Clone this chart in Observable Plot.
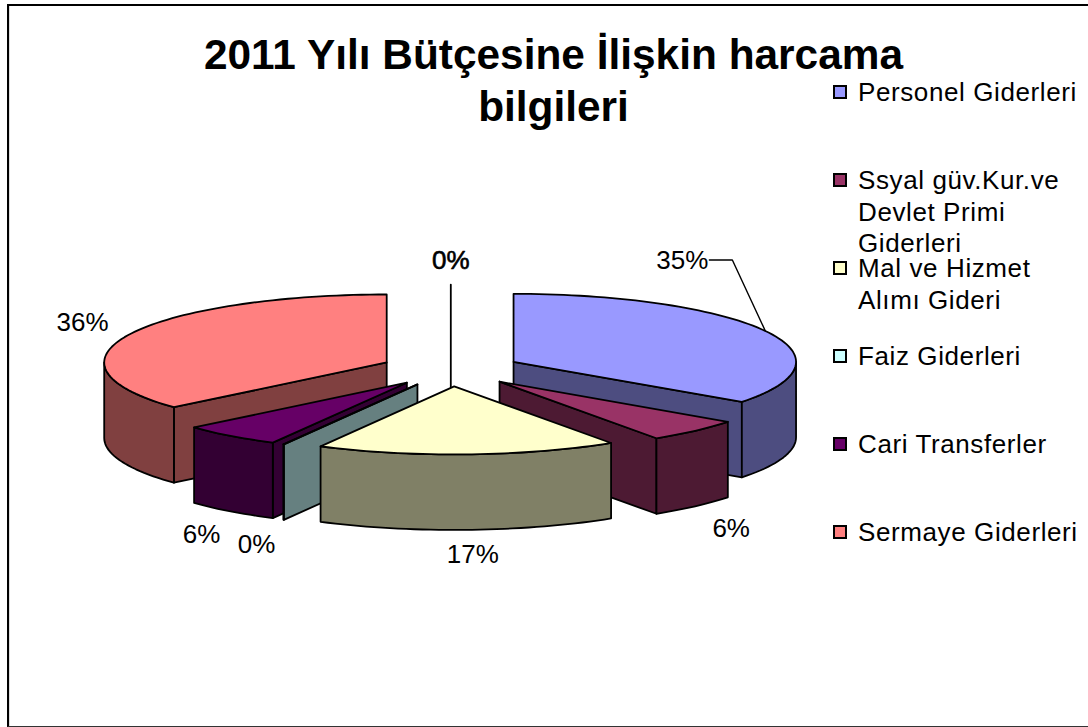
<!DOCTYPE html>
<html lang="tr">
<head>
<meta charset="utf-8">
<script src="https://cdn.jsdelivr.net/npm/d3@7"></script>
<script src="https://cdn.jsdelivr.net/npm/@observablehq/plot@0.6"></script>
<style>
html,body{margin:0;padding:0;background:#fff;overflow:hidden}
#wrap{position:relative;width:1088px;height:727px;overflow:hidden;font-family:"Liberation Sans",Arial,sans-serif;color:#000}
#wrap svg{position:absolute;left:0;top:0;background:transparent}
#frame{position:absolute;left:7px;top:4px;width:1100px;height:719.5px;box-sizing:content-box;border-left:2.5px solid #000;border-top:2.5px solid #000;border-bottom:1px solid #333;box-shadow:inset 1px 0 0 #ddd;pointer-events:none}
.tl{position:absolute;left:553.5px;transform:translateX(-50%);font-weight:bold;font-size:42.4px;line-height:44px;white-space:pre}
.sw{position:absolute;left:833px;width:10px;height:10px;border:2px solid #000}
.lg{position:absolute;left:858px;font-size:26px;line-height:31.5px;letter-spacing:.6px;white-space:pre}
</style>
</head>
<body>
<div id="wrap"></div>
<script>
const titleLines = ["2011 Yılı Bütçesine İlişkin harcama", "bilgileri"];
const names = ["Personel Giderleri", "Ssyal güv.Kur.ve\nDevlet Primi\nGiderleri", "Mal ve Hizmet\nAlımı Gideri", "Faiz Giderleri", "Cari Transferler", "Sermaye Giderleri", ""];
const values = [35.0, 5.6, 17.2, 0.03, 5.7, 36.4, 0];
const topColors = ["#9999FF", "#993366", "#FFFFCC", "#CCFFFF", "#660066", "#FF8080", "#FFFFFF"];
const sideColors = ["#4D4D80", "#4D1A33", "#808066", "#668080", "#330033", "#804040", "#808080"];

// Layout of the 3D pie
const W = 1088, H = 727;
const cx = 450.3, cy = 369, rx = 282.5, ry = 68, depth = 75.5, explode = 70.4;
const paintOrder = [6, 5, 0, 1, 4, 3, 2];
const labelNudge = [[-83, -70], [36, 98], [5, 100], [-27, 100], [-29, 99], [-47, -12], [0, -24]];
const legendTop = 85, legendStep = 88, titleTop = 33, titleStep = 52;

const arcs = d3.pie().sort(null).value(d => d)(values);
const slices = arcs.map((a, i) => {
  const mid = (a.startAngle + a.endAngle) / 2;
  const ax = cx + explode * Math.sin(mid);
  const ay = cy - explode * (ry / rx) * Math.cos(mid);
  return {i, a0: a.startAngle, a1: a.endAngle, mid, ax, ay,
    rim: t => [ax + rx * Math.sin(t), ay - ry * Math.cos(t)]};
});

let faces = [];
function addFace(pts, fill) {
  const id = faces.length ? faces[faces.length - 1].id + 1 : 0;
  const closed = [...pts, pts[0]];
  closed.forEach(p => faces.push({id, x: p[0], y: p[1], fill}));
}
function arcPoints(s, t0, t1) {
  const n = Math.max(1, Math.ceil(Math.abs(t1 - t0) / 0.03));
  return d3.range(n + 1).map(k => s.rim(t0 + (t1 - t0) * k / n));
}
for (const idx of paintOrder) {
  const s = slices[idx], side = sideColors[idx], top = topColors[idx];
  const apex = [s.ax, s.ay];
  const down = p => [p[0], p[1] + depth];
  const flat = s.a1 - s.a0 < 1e-9;
  if (flat) {
    addFace([apex, s.rim(s.a0), down(s.rim(s.a0)), down(apex)], side);
    continue;
  }
  // cut walls that face the viewer
  if (Math.sin(s.a0) < -1e-6) {
    const r = s.rim(s.a0);
    addFace([apex, r, down(r), down(apex)], side);
  }
  if (Math.sin(s.a1) > 1e-6) {
    const r = s.rim(s.a1);
    addFace([apex, r, down(r), down(apex)], side);
  }
  // outer wall: the part of the rim on the near half of the ellipse
  const t0 = Math.max(s.a0, Math.PI / 2), t1 = Math.min(s.a1, 3 * Math.PI / 2);
  if (t1 > t0) {
    const edge = arcPoints(s, t0, t1);
    addFace([...edge, ...edge.slice().reverse().map(down)], side);
  }
  // top face
  addFace([apex, ...arcPoints(s, s.a0, s.a1)], top);
}

const labels = slices.map((s, i) => {
  const p = s.rim(s.mid);
  return {i, x: p[0] + labelNudge[i][0], y: p[1] + labelNudge[i][1], text: d3.format(".0f")(values[i]) + "%"};
});

// leader of the first label
const p0 = slices[0].rim(slices[0].mid);
const leader = [p0, [p0[0] - 33, p0[1] - 71], [p0[0] - 56, p0[1] - 71]].map(([x, y]) => ({x, y}));

const chart = Plot.plot({
  width: W, height: H, margin: 0,
  style: {background: "transparent"},
  x: {domain: [0, W], range: [0, W], axis: null},
  y: {domain: [0, H], range: [0, H], axis: null},
  color: {type: "identity"},
  marks: [
    Plot.line(faces, {x: "x", y: "y", z: "id", fill: "fill", stroke: "#000", strokeWidth: 1.8, curve: "linear", strokeLinejoin: "round"}),
    Plot.line(leader, {x: "x", y: "y", stroke: "#000", strokeWidth: 1.4}),
    Plot.text(labels, {x: "x", y: "y", text: "text", fontSize: 26, fontFamily: "Liberation Sans, Arial, sans-serif", fill: "#000", stroke: "#000", strokeWidth: d => d.i === 6 ? 0.6 : 0})
  ]
});
const wrap = document.getElementById("wrap");
wrap.appendChild(chart);

const frame = document.createElement("div"); frame.id = "frame"; wrap.appendChild(frame);
titleLines.forEach((line, i) => {
  const t = document.createElement("div"); t.className = "tl";
  t.style.top = (titleTop + titleStep * i) + "px"; t.textContent = line; wrap.appendChild(t);
});
names.forEach((n, i) => {
  if (!n) return;
  const sw = document.createElement("div"); sw.className = "sw";
  sw.style.top = (legendTop + legendStep * i) + "px"; sw.style.background = topColors[i]; wrap.appendChild(sw);
  const t = document.createElement("div"); t.className = "lg";
  t.style.top = (legendTop + legendStep * i - 8) + "px"; t.textContent = n; wrap.appendChild(t);
});
</script>
</body>
</html>
